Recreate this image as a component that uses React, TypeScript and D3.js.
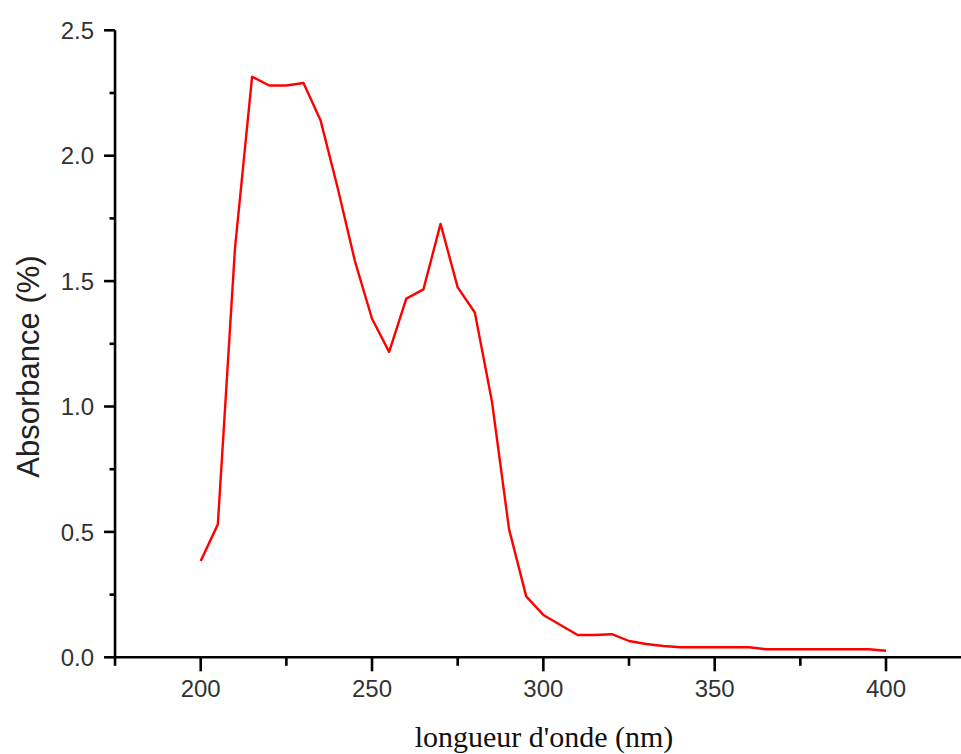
import React from "react";
import * as d3 from "d3";

const wavelengths = [200, 205, 210, 215, 220, 225, 230, 235, 240, 245, 250, 255, 260, 265, 270, 275, 280, 285, 290, 295, 300, 305, 310, 315, 320, 325, 330, 335, 340, 345, 350, 355, 360, 365, 370, 375, 380, 385, 390, 395, 400];
const absorbance = [0.384, 0.53, 1.63, 2.315, 2.28, 2.28, 2.29, 2.14, 1.87, 1.58, 1.35, 1.218, 1.43, 1.467, 1.728, 1.475, 1.375, 1.02, 0.51, 0.243, 0.169, 0.129, 0.089, 0.089, 0.092, 0.065, 0.053, 0.045, 0.04, 0.04, 0.04, 0.04, 0.04, 0.032, 0.032, 0.032, 0.032, 0.032, 0.032, 0.032, 0.026];
const xMajorTicks = [200, 250, 300, 350, 400];
const xMinorTicks = [175, 225, 275, 325, 375, 425];
const yMajorTicks = [0, 0.5, 1.0, 1.5, 2.0, 2.5];
const yMinorTicks = [0.25, 0.75, 1.25, 1.75, 2.25];
const xTitle = "longueur d'onde (nm)";
const yTitle = "Absorbance (%)";

export default function App() {
  const W = 961, H = 754;
  const x = d3.scaleLinear().domain([175, 425]).range([115.04, 115.04 + 250 * 3.4265]);
  const y = d3.scaleLinear().domain([0, 2.5]).range([657.3, 30.3]);
  const data = wavelengths.map((w, i) => [w, absorbance[i]] as [number, number]);
  const line = d3.line<[number, number]>().x(d => x(d[0])).y(d => y(d[1]));
  const sans = "'Liberation Sans', Arial, sans-serif";
  const serif = "'Liberation Serif', 'Times New Roman', serif";
  const axisW = 2.6;
  const x0 = x(175);
  const yBase = y(0);
  return (
    <svg width={W} height={H} style={{ position: "absolute", left: 0, top: 0, background: "#fff" }}>
      <rect x={0} y={0} width={W} height={H} fill="#fff" />
      <path d={line(data) || ""} fill="none" stroke="#ff0000" strokeWidth={2.4} strokeLinejoin="round" />
      {/* y axis */}
      <line x1={x0} x2={x0} y1={y(2.5)} y2={yBase} stroke="#000" strokeWidth={axisW} />
      {yMajorTicks.map(v => (
        <g key={"ym" + v}>
          <line x1={x0 - 11} x2={x0} y1={y(v)} y2={y(v)} stroke="#000" strokeWidth={axisW} />
          <text x={94} y={y(v)} dy="0.36em" textAnchor="end" fontFamily={sans} fontSize={24} fill="#333">{v.toFixed(1)}</text>
        </g>
      ))}
      {yMinorTicks.map(v => (
        <line key={"yn" + v} x1={x0 - 5.5} x2={x0} y1={y(v)} y2={y(v)} stroke="#000" strokeWidth={axisW} />
      ))}
      {/* x axis */}
      <line x1={x0 - 1} x2={W} y1={yBase} y2={yBase} stroke="#000" strokeWidth={axisW} />
      {xMajorTicks.map(v => (
        <g key={"xm" + v}>
          <line x1={x(v)} x2={x(v)} y1={yBase} y2={yBase + 14} stroke="#000" strokeWidth={axisW} />
          <text x={x(v)} y={697} textAnchor="middle" fontFamily={sans} fontSize={24} fill="#333">{v}</text>
        </g>
      ))}
      {xMinorTicks.map(v => (
        <line key={"xn" + v} x1={x(v)} x2={x(v)} y1={yBase} y2={yBase + 8.5} stroke="#000" strokeWidth={axisW} />
      ))}
      <text x={544} y={747} textAnchor="middle" fontFamily={serif} fontSize={30} fill="#111">{xTitle}</text>
      <text transform="translate(38.5,366.5) rotate(-90)" textAnchor="middle" fontFamily={sans} fontSize={31} fill="#222">{yTitle}</text>
    </svg>
  );
}
